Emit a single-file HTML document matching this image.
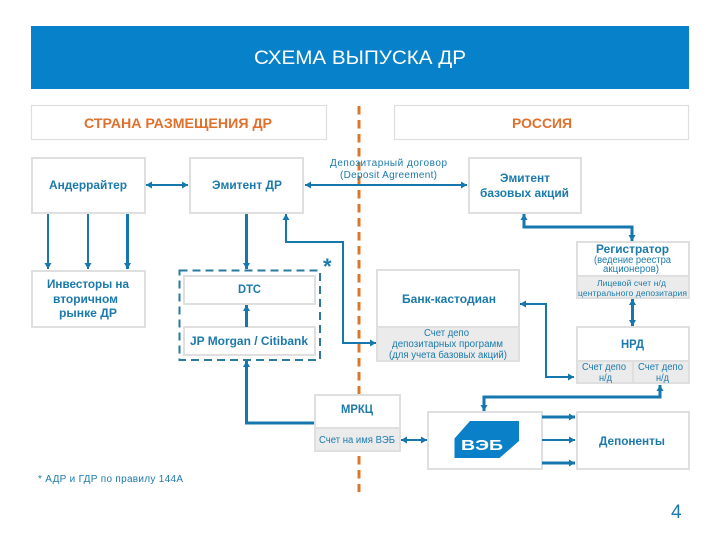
<!DOCTYPE html>
<html><head><meta charset="utf-8"><style>
html,body{margin:0;padding:0;background:#fff;width:720px;height:540px;overflow:hidden}
svg{display:block}
text{font-family:"Liberation Sans",sans-serif;fill:#1b7aab;dominant-baseline:auto}
.b{font-weight:bold;font-size:12px}
.r{font-size:10px}
.s{font-size:8.5px}
.o{font-weight:bold;font-size:13.5px;fill:#e0702b}
.box{fill:#fff;stroke:#dfdfdf;stroke-width:2}
.thin{fill:#fff;stroke:#dfdfdf;stroke-width:1.2}
.g{fill:#ebebeb;stroke:#dfdfdf;stroke-width:2}
.l{fill:none;stroke:#1577ad;stroke-width:2}
.t{fill:none;stroke:#1577ad;stroke-width:3}
</style></head><body>
<svg width="720" height="540" viewBox="0 0 720 540" xmlns="http://www.w3.org/2000/svg">
<defs>
<marker id="a" markerUnits="userSpaceOnUse" markerWidth="8" markerHeight="8" refX="6" refY="3.5" orient="auto-start-reverse"><path d="M0 0L6 3.5L0 7z" fill="#1577ad"/></marker>
</defs>
<rect x="31" y="26" width="658" height="63" fill="#0782ca"/>
<text x="254" y="64" style="font-size:19px;fill:#fff" textLength="212" lengthAdjust="spacingAndGlyphs">СХЕМА ВЫПУСКА ДР</text>

<rect class="thin" x="31.5" y="105.5" width="295" height="34"/>
<rect class="thin" x="394.5" y="105.5" width="294" height="34"/>
<text class="o" x="84" y="128" textLength="188" lengthAdjust="spacingAndGlyphs">СТРАНА РАЗМЕЩЕНИЯ ДР</text>
<text class="o" x="512" y="128" textLength="60" lengthAdjust="spacingAndGlyphs">РОССИЯ</text>

<line x1="359" y1="106" x2="359" y2="492" stroke="#e0752a" stroke-width="3" stroke-dasharray="8.5 5.5"/>

<rect class="box" x="32" y="158" width="113" height="55"/>
<rect class="box" x="190" y="158" width="113" height="55"/>
<rect class="box" x="32" y="271" width="113" height="56"/>
<rect class="box" x="469" y="158" width="112" height="55"/>

<rect x="179.5" y="270.500" width="140.500" height="89.500" fill="none" stroke="#2a7a9f" stroke-width="2" stroke-dasharray="8 5"/>
<rect class="box" x="184" y="276" width="131" height="28"/>
<rect class="box" x="184" y="327" width="131" height="28"/>

<rect class="box" x="577" y="242" width="112" height="34"/>
<rect class="g" x="577" y="276" width="112" height="22"/>
<rect class="box" x="377" y="270" width="142" height="57"/>
<rect class="g" x="377" y="327" width="142" height="34"/>
<rect class="box" x="577" y="327" width="112" height="34"/>
<rect class="g" x="577" y="361" width="56" height="22"/>
<rect class="g" x="633" y="361" width="56" height="22"/>
<rect class="box" x="315" y="395" width="85" height="33"/>
<rect class="g" x="315" y="428" width="85" height="23"/>
<rect class="box" x="428" y="412" width="114" height="57"/>
<rect class="box" x="577" y="412" width="112" height="57"/>

<g class="arrows">
<line class="l" x1="146" y1="185" x2="188" y2="185" marker-start="url(#a)" marker-end="url(#a)"/>
<line class="l" x1="48" y1="214" x2="48" y2="269" marker-end="url(#a)"/>
<line class="l" x1="88" y1="214" x2="88" y2="269" marker-end="url(#a)"/>
<line class="t" x1="127.500" y1="214" x2="127.500" y2="269" marker-end="url(#a)"/>
<line class="t" x1="246.500" y1="214" x2="246.500" y2="269" marker-end="url(#a)"/>
<line class="t" x1="246.500" y1="327" x2="246.500" y2="305" marker-end="url(#a)"/>
<polyline class="t" points="314,423 246.500,423 246.500,361" marker-end="url(#a)"/>
<line class="l" x1="305" y1="185" x2="467" y2="185" marker-start="url(#a)" marker-end="url(#a)"/>
<polyline class="l" points="286,214 286,242 343,242 343,343 376,343" marker-start="url(#a)" marker-end="url(#a)"/>
<polyline class="t" points="524,214 524,227 632,227 632,241" marker-start="url(#a)" marker-end="url(#a)"/>
<line class="t" x1="632.500" y1="299" x2="632.500" y2="326" marker-start="url(#a)" marker-end="url(#a)"/>
<polyline class="l" points="520,304 546,304 546,377 574,377" marker-start="url(#a)" marker-end="url(#a)"/>
<polyline class="t" points="660,385 660,397 484,397 484,411" marker-start="url(#a)" marker-end="url(#a)"/>
<line class="l" x1="401" y1="440" x2="427" y2="440" marker-start="url(#a)" marker-end="url(#a)"/>
<line class="t" x1="542" y1="417" x2="575" y2="417" marker-end="url(#a)"/>
<line class="l" x1="542" y1="440" x2="575" y2="440" marker-end="url(#a)"/>
<line class="t" x1="542" y1="463" x2="575" y2="463" marker-end="url(#a)"/>
</g>

<text class="b" x="49" y="189" textLength="78" lengthAdjust="spacingAndGlyphs">Андеррайтер</text>
<text class="b" x="212" y="189" textLength="70" lengthAdjust="spacingAndGlyphs">Эмитент ДР</text>
<text class="b" x="47" y="288" textLength="82" lengthAdjust="spacingAndGlyphs">Инвесторы на</text>
<text class="b" x="53" y="303" textLength="65" lengthAdjust="spacingAndGlyphs">вторичном</text>
<text class="b" x="59" y="317" textLength="58" lengthAdjust="spacingAndGlyphs">рынке ДР</text>
<text class="b" x="238" y="293" textLength="23" lengthAdjust="spacingAndGlyphs">DTC</text>
<text class="b" x="190" y="345" textLength="118" lengthAdjust="spacingAndGlyphs">JP Morgan / Citibank</text>
<text class="r" x="330" y="166" textLength="117">Депозитарный договор</text>
<text class="r" x="340" y="178" textLength="97">(Deposit Agreement)</text>
<text class="b" x="500" y="182" textLength="50" lengthAdjust="spacingAndGlyphs">Эмитент</text>
<text class="b" x="480" y="197" textLength="89" lengthAdjust="spacingAndGlyphs">базовых акций</text>
<text class="b" x="596" y="253" textLength="73" lengthAdjust="spacingAndGlyphs">Регистратор</text>
<text class="r" x="594" y="263" textLength="77" lengthAdjust="spacingAndGlyphs">(ведение реестра</text>
<text class="r" x="603" y="272" textLength="56" lengthAdjust="spacingAndGlyphs">акционеров)</text>
<text class="s" x="597" y="286" textLength="69">Лицевой счет н/д</text>
<text class="s" x="578" y="296" textLength="109">центрального депозитария</text>
<text class="b" x="402" y="303" textLength="94" lengthAdjust="spacingAndGlyphs">Банк-кастодиан</text>
<text class="r" x="424" y="336" textLength="45" lengthAdjust="spacingAndGlyphs">Счет депо</text>
<text class="r" x="392" y="347" textLength="111" lengthAdjust="spacingAndGlyphs">депозитарных программ</text>
<text class="r" x="389" y="358" textLength="118" lengthAdjust="spacingAndGlyphs">(для учета базовых акций)</text>
<text class="b" x="621" y="348" textLength="23" lengthAdjust="spacingAndGlyphs">НРД</text>
<text class="r" x="582" y="370" textLength="44" lengthAdjust="spacingAndGlyphs">Счет депо</text>
<text class="r" x="599" y="381" textLength="13" lengthAdjust="spacingAndGlyphs">н/д</text>
<text class="r" x="638" y="370" textLength="45" lengthAdjust="spacingAndGlyphs">Счет депо</text>
<text class="r" x="656" y="381" textLength="13" lengthAdjust="spacingAndGlyphs">н/д</text>
<text class="b" x="341" y="413" textLength="32" lengthAdjust="spacingAndGlyphs">МРКЦ</text>
<text class="r" x="319" y="443" textLength="76" lengthAdjust="spacingAndGlyphs">Счет на имя ВЭБ</text>
<text class="b" x="599" y="445" textLength="66" lengthAdjust="spacingAndGlyphs">Депоненты</text>

<polygon points="470,421 519,421 519,441 499.500,458 454.500,458 454.500,438.500" fill="#0a80c8"/>
<text x="461" y="450" style="font-size:15px;font-weight:bold;fill:#fff" textLength="42" lengthAdjust="spacingAndGlyphs">ВЭБ</text>

<text x="323" y="274" style="font-size:22px;font-weight:bold">*</text>
<text x="38" y="482" style="font-size:10px" textLength="145">* АДР и ГДР по правилу 144А</text>
<text x="671" y="518" style="font-size:19px">4</text>
</svg>
</body></html>
